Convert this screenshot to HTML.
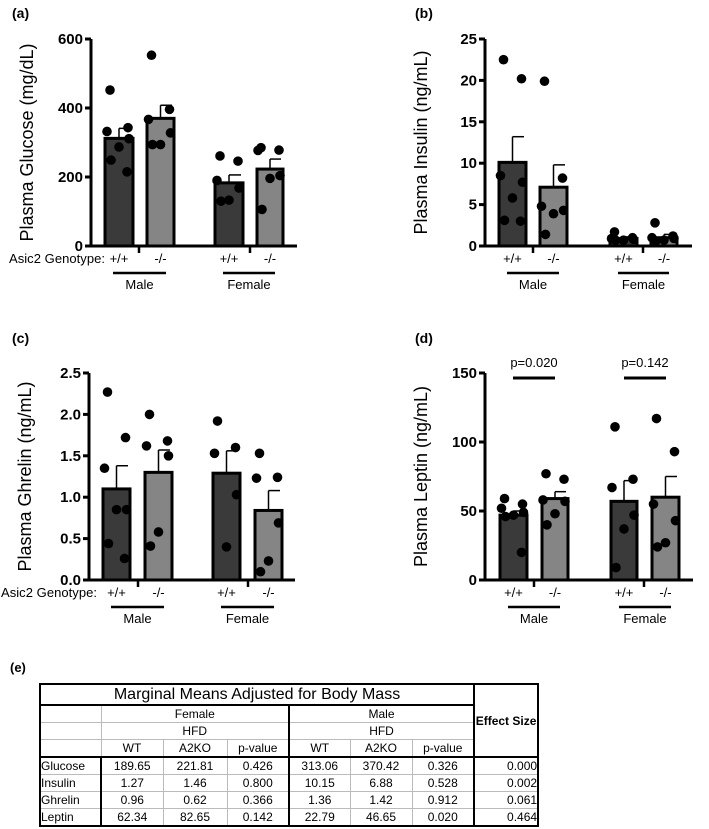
<!DOCTYPE html>
<html><head><meta charset="utf-8"><style>
body{margin:0;background:#fff;width:709px;height:829px;overflow:hidden;font-family:"Liberation Sans",Arial,sans-serif}
svg{position:absolute;left:0;top:0}
text{font-family:"Liberation Sans",Arial,sans-serif}
table{position:absolute;left:39px;top:683px;border-collapse:collapse;font-family:"Liberation Sans Narrow","Liberation Sans",sans-serif;font-size:12px;table-layout:fixed}
td{border:1px solid #bbb;text-align:center;padding:0;height:16px;line-height:14px}
</style></head><body>
<svg id="chart" width="709" height="680"></svg>
<div style="position:absolute;left:10px;top:660px;font-weight:bold;font-size:13px">(e)</div>
<table style="width:498px;border:2px solid #000">
<colgroup><col style="width:61px"><col style="width:62px"><col style="width:64px"><col style="width:62px"><col style="width:61px"><col style="width:62px"><col style="width:62px"><col style="width:64px"></colgroup>
<tr style="border-bottom:2px solid #000"><td colspan="7" style="font-size:16px;height:19px;border-right:2px solid #000">Marginal Means Adjusted for Body Mass</td><td rowspan="4" style="font-weight:bold;font-size:12px;border-left:2px solid #000">Effect Size</td></tr>
<tr><td></td><td colspan="3" style="border-right:2px solid #000">Female</td><td colspan="3" style="border-right:2px solid #000">Male</td></tr>
<tr><td></td><td colspan="3" style="border-right:2px solid #000">HFD</td><td colspan="3" style="border-right:2px solid #000">HFD</td></tr>
<tr style="border-bottom:2px solid #000"><td></td><td>WT</td><td>A2KO</td><td style="border-right:2px solid #000">p-value</td><td>WT</td><td>A2KO</td><td style="border-right:2px solid #000">p-value</td></tr>
<tr><td style="text-align:left;border-right:2px solid #000">Glucose</td><td>189.65</td><td>221.81</td><td style="border-right:2px solid #000">0.426</td><td>313.06</td><td>370.42</td><td style="border-right:2px solid #000">0.326</td><td style="text-align:right;border-left:2px solid #000">0.000</td></tr>
<tr><td style="text-align:left;border-right:2px solid #000">Insulin</td><td>1.27</td><td>1.46</td><td style="border-right:2px solid #000">0.800</td><td>10.15</td><td>6.88</td><td style="border-right:2px solid #000">0.528</td><td style="text-align:right;border-left:2px solid #000">0.002</td></tr>
<tr><td style="text-align:left;border-right:2px solid #000">Ghrelin</td><td>0.96</td><td>0.62</td><td style="border-right:2px solid #000">0.366</td><td>1.36</td><td>1.42</td><td style="border-right:2px solid #000">0.912</td><td style="text-align:right;border-left:2px solid #000">0.061</td></tr>
<tr><td style="text-align:left;border-right:2px solid #000">Leptin</td><td>62.34</td><td>82.65</td><td style="border-right:2px solid #000">0.142</td><td>22.79</td><td>46.65</td><td style="border-right:2px solid #000">0.020</td><td style="text-align:right;border-left:2px solid #000">0.464</td></tr>
</table>
<script>
const groups = ["+/+","-/-","+/+","-/-"];
const sexes = ["Male","Female"];
const glucoseMeans = [312,370,183,223];
const glucoseSem = [341,408,206,252];
const glucosePoints = [[452,343,332,311,287,249,215],[553,396,367,328,294,294],[261,246,190,168,133,130],[285,278,277,204,196,106]];
const glucoseTicks = ["0","200","400","600"];
const insulinMeans = [10.1,7.1,0.9,1.0];
const insulinSem = [13.2,9.8,1.1,1.4];
const insulinPoints = [[22.5,20.2,8.5,7.7,5.8,3.1,3.0],[19.9,8.2,4.8,4.3,3.9,1.4],[1.7,1.0,0.9,0.8,0.7,0.7],[2.8,1.2,1.0,0.9,0.7,0.6]];
const insulinTicks = ["0","5","10","15","20","25"];
const ghrelinMeans = [1.1,1.3,1.29,0.84];
const ghrelinSem = [1.38,1.57,1.56,1.08];
const ghrelinPoints = [[2.27,1.72,1.35,0.85,0.85,0.44,0.26],[2.0,1.68,1.62,1.5,0.58,0.41],[1.92,1.6,1.53,1.03,0.4],[1.53,1.24,1.23,0.69,0.23,0.1]];
const ghrelinTicks = ["0.0","0.5","1.0","1.5","2.0","2.5"];
const leptinMeans = [47,59,57,60];
const leptinSem = [50,64,72,75];
const leptinPoints = [[59,55,52,49,47,46,20],[77,73,58,57,48,40],[111,73,67,47,37,9],[117,93,55,43,27,24]];
const leptinTicks = ["0","50","100","150"];
const leptinPValues = ["p=0.020","p=0.142"];

const svg = document.getElementById('chart');
const NS = "http://www.w3.org/2000/svg";
function mk(tag, attrs, parent){const e=document.createElementNS(NS,tag);for(const k in attrs)e.setAttribute(k,attrs[k]);(parent||svg).appendChild(e);return e;}
function txt(x,y,s,size,anchor,weight,parent){const t=mk('text',{x:x,y:y,'font-size':size,'text-anchor':anchor||'middle','font-weight':weight||'normal'},parent);t.textContent=s;return t;}

function panel(cfg){
  const g=mk('g',{});
  
  
  const y=v=>cfg.y0-(v/cfg.max)*(cfg.y0-cfg.yTop);
  const lab=txt(cfg.labelX,cfg.labelY,cfg.letter,14,'start','bold',g);
  
  
  const yt=txt(0,0,cfg.title,18,'middle','normal',g);
  yt.setAttribute('transform',`translate(${cfg.ax-58},${(cfg.y0+cfg.yTop)/2}) rotate(-90)`);
  
  
  const fills=['#3a3a3a','#858585','#3a3a3a','#858585'];
  cfg.means.forEach((m,i)=>{
    const [x1,x2]=cfg.bars[i];const cx=(x1+x2)/2;
    const r=mk('rect',{x:x1,y:y(m),width:x2-x1,height:cfg.y0-y(m),fill:fills[i],stroke:'#000','stroke-width':3},g);
    
    
    mk('line',{x1:cx,x2:cx,y1:y(m),y2:y(cfg.sem[i]),stroke:'#000','stroke-width':1.5},g);
    mk('line',{x1:cx,x2:cx+(x2-x1)/2-2,y1:y(cfg.sem[i]),y2:y(cfg.sem[i]),stroke:'#000','stroke-width':1.5},g);
    const offs=[-9,9,-12,10,0,-8,8];
    cfg.points[i].forEach((v,j)=>{
      const c=mk('circle',{cx:cx+offs[j%offs.length],cy:y(v),r:4.8,fill:'#000'},g);
      
      
    });
    const xl=txt(cx,cfg.y0+17,groups[i],13,'middle','normal',g);
    
    
  });
  mk('line',{x1:cfg.ax,x2:cfg.ax,y1:cfg.yTop,y2:cfg.y0+1.5,stroke:'#000','stroke-width':3},g);
  mk('line',{x1:cfg.ax-6,x2:cfg.xEnd,y1:cfg.y0,y2:cfg.y0,stroke:'#000','stroke-width':3},g);
  cfg.seps.forEach(s=>mk('line',{x1:s,x2:s,y1:cfg.y0,y2:cfg.y0+7,stroke:'#000','stroke-width':2.5},g));
  cfg.ticks.forEach((t,i)=>{
    const v=cfg.max*i/(cfg.ticks.length-1);
    mk('line',{x1:cfg.ax-6,x2:cfg.ax,y1:y(v),y2:y(v),stroke:'#000','stroke-width':3},g);
    const tl=txt(cfg.ax-8,y(v)+5,t,15,'end','bold',g);
    
    
  });
  if(cfg.genotypeX!==undefined){const gt=txt(cfg.genotypeX,cfg.y0+17,'Asic2 Genotype:',13,'start','normal',g);
    gt.setAttribute('textLength', cfg.genotypeW);
    
    }
  [[0,1],[2,3]].forEach((p,k)=>{
    const xa=cfg.bars[p[0]][0]+8, xb=cfg.bars[p[1]][1]-8;
    mk('line',{x1:xa,x2:xb,y1:cfg.y0+27,y2:cfg.y0+27,stroke:'#000','stroke-width':2.5},g);
    const sl=txt((xa+xb)/2,cfg.y0+43,sexes[k],13,'middle','normal',g);
    
    
    if(cfg.pvals){
      const pa=cfg.bars[p[0]][0]+13,pb=cfg.bars[p[1]][1]-13;
      mk('line',{x1:pa,x2:pb,y1:cfg.yTop+5,y2:cfg.yTop+5,stroke:'#000','stroke-width':3},g);
      const pt=txt((pa+pb)/2,cfg.yTop-6,cfg.pvals[k],13,'middle','normal',g);
      
      
    }
  });
}
panel({name:'glucose-chart',letter:'(a)',labelX:12,labelY:18,title:'Plasma Glucose (mg/dL)',ax:91,yTop:39,y0:246,xEnd:297,max:600,
  bars:[[105,133],[147,174],[215,243],[257,283]],seps:[139,250],ticks:glucoseTicks,means:glucoseMeans,sem:glucoseSem,points:glucosePoints,genotypeX:9,genotypeW:96});
panel({name:'insulin-chart',letter:'(b)',labelX:415,labelY:18,title:'Plasma Insulin (ng/mL)',ax:485,yTop:39,y0:246,xEnd:692,max:25,
  bars:[[499,526],[540,567],[610,637],[651,677]],seps:[533,643],ticks:insulinTicks,means:insulinMeans,sem:insulinSem,points:insulinPoints});
panel({name:'ghrelin-chart',letter:'(c)',labelX:12,labelY:343,title:'Plasma Ghrelin (ng/mL)',ax:89,yTop:373,y0:580,xEnd:295,max:2.5,
  bars:[[103,130],[145,172],[213,240],[255,282]],seps:[138,248],ticks:ghrelinTicks,means:ghrelinMeans,sem:ghrelinSem,points:ghrelinPoints,genotypeX:1,genotypeW:96});
panel({name:'leptin-chart',letter:'(d)',labelX:415,labelY:343,title:'Plasma Leptin (ng/mL)',ax:485,yTop:373,y0:580,xEnd:693,max:150,
  bars:[[500,527],[542,568],[611,637],[652,679]],seps:[534,644],ticks:leptinTicks,means:leptinMeans,sem:leptinSem,points:leptinPoints,pvals:leptinPValues});
</script>
</body></html>
